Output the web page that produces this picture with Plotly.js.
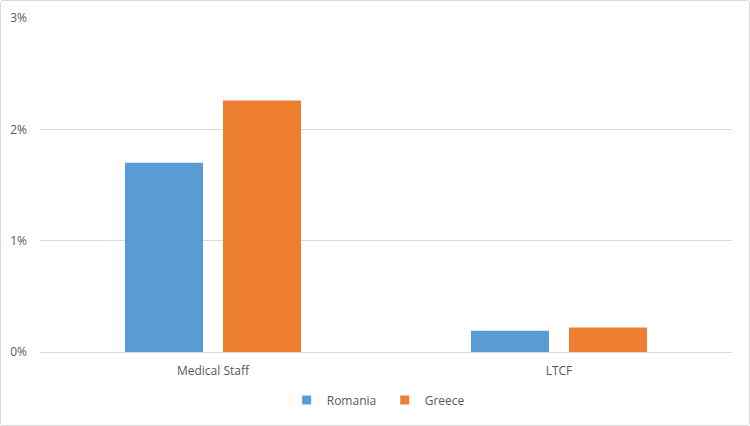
<!DOCTYPE html>
<html>
<head>
<meta charset="utf-8">
<script src="https://cdn.plot.ly/plotly-3.0.1.min.js"></script>
<style>
html,body{margin:0;padding:0;background:#fff;}
#wrap{position:absolute;left:0;top:0;width:750px;height:426px;box-sizing:border-box;border:1px solid #d9d9d9;border-radius:3px;overflow:hidden;}
#chart{width:748px;height:424px;}
</style>
</head>
<body>
<div id="wrap"><div id="chart"></div></div>
<script>
const categories = ["Medical Staff", "LTCF"];
const romania = [0.0170, 0.0019];
const greece = [0.0226, 0.0022];
const seriesNames = ["Romania", "Greece"];
const seriesColors = ["#5B9BD5", "#ED7D31"];
const yTickVals = [0, 0.01, 0.02, 0.03];
const yTickText = ["0%", "1%", "2%", "3%"];

const data = [
  {type: "bar", name: seriesNames[0], x: categories, y: romania, marker: {color: seriesColors[0]}, hoverinfo: "skip", showlegend: false},
  {type: "bar", name: seriesNames[1], x: categories, y: greece, marker: {color: seriesColors[1]}, hoverinfo: "skip", showlegend: false},
  {type: "scatter", mode: "markers", name: seriesNames[0], x: [null], y: [null], marker: {color: seriesColors[0], symbol: "square", size: 9}, showlegend: true, hoverinfo: "skip"},
  {type: "scatter", mode: "markers", name: seriesNames[1], x: [null], y: [null], marker: {color: seriesColors[1], symbol: "square", size: 9}, showlegend: true, hoverinfo: "skip"}
];

const layout = {
  width: 748, height: 424,
  margin: {l: 39, r: 17, t: 17, b: 73},
  paper_bgcolor: "#ffffff",
  plot_bgcolor: "#ffffff",
  font: {family: "Open Sans, Liberation Sans, sans-serif", size: 12, color: "#595959"},
  barmode: "group",
  bargap: 0.4335,
  bargroupgap: 0.204,
  showlegend: true,
  legend: {orientation: "h", x: 0.513, xanchor: "center", xref: "container", y: 0.059, yanchor: "middle", yref: "container", font: {size: 12, color: "#595959"}, itemwidth: 30, entrywidth: 53, traceorder: "normal"},
  xaxis: {
    type: "category",
    showgrid: false,
    showline: true, linecolor: "#d9d9d9", linewidth: 1,
    ticks: "", tickfont: {size: 12, color: "#595959"},
    ticklabelstandoff: 8,
    fixedrange: true
  },
  yaxis: {
    range: [0, 0.03],
    tickvals: yTickVals, ticktext: yTickText,
    showgrid: true, gridcolor: "#d9d9d9", gridwidth: 1,
    zeroline: true, zerolinecolor: "#d9d9d9", zerolinewidth: 1,
    showline: false, ticks: "",
    ticklabelstandoff: 12,
    tickfont: {size: 12, color: "#595959"},
    fixedrange: true
  }
};

Plotly.newPlot("chart", data, layout, {displayModeBar: false, staticPlot: true});
</script>
</body>
</html>
